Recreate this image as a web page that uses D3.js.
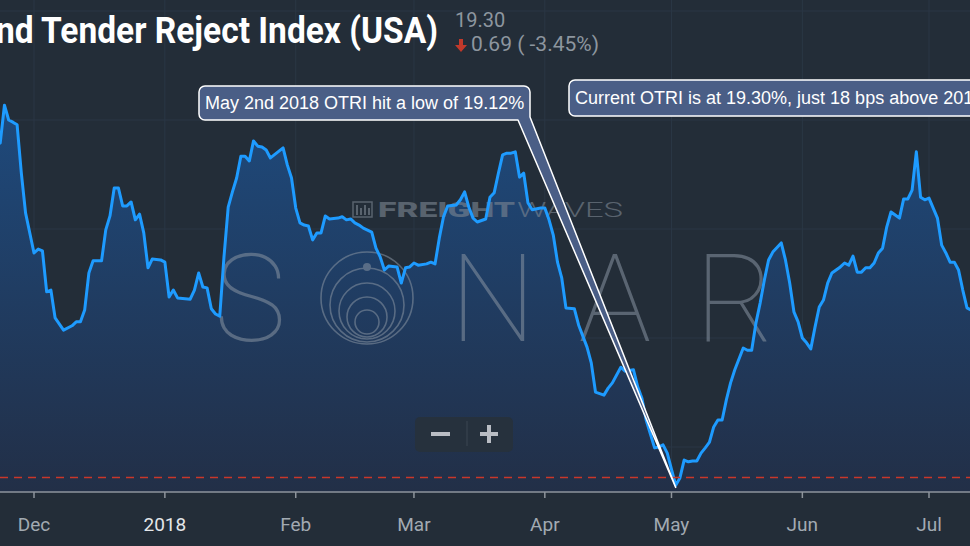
<!DOCTYPE html>
<html>
<head>
<meta charset="utf-8">
<script src="https://cdn.jsdelivr.net/npm/d3@7"></script>
<style>
  body { margin: 0; background: #232d38; overflow: hidden; }
  svg { display: block; }
</style>
</head>
<body>
<div id="chart"></div>
<script>
// daily OTRI readings
let dates = [
  "2017-11-22","2017-11-23","2017-11-24","2017-11-25","2017-11-26","2017-11-27","2017-11-28","2017-11-29",
  "2017-12-01","2017-12-02","2017-12-03","2017-12-04","2017-12-05","2017-12-06","2017-12-08","2017-12-10",
  "2017-12-11","2017-12-12","2017-12-13","2017-12-14","2017-12-15","2017-12-17","2017-12-18","2017-12-19",
  "2017-12-20","2017-12-21","2017-12-22","2017-12-23","2017-12-24","2017-12-25","2017-12-26","2017-12-27",
  "2017-12-28","2017-12-29","2017-12-31","2018-01-01","2018-01-02","2018-01-03","2018-01-04","2018-01-07",
  "2018-01-08","2018-01-09","2018-01-10","2018-01-11","2018-01-12","2018-01-13","2018-01-14","2018-01-15",
  "2018-01-16","2018-01-17","2018-01-18","2018-01-19","2018-01-20","2018-01-21","2018-01-22","2018-01-23",
  "2018-01-24","2018-01-25","2018-01-26","2018-01-29","2018-01-30","2018-01-31","2018-02-01","2018-02-02",
  "2018-02-03","2018-02-04","2018-02-05","2018-02-06","2018-02-07","2018-02-08","2018-02-09","2018-02-11",
  "2018-02-12","2018-02-13","2018-02-14","2018-02-15","2018-02-16","2018-02-17","2018-02-19","2018-02-20",
  "2018-02-21","2018-02-22","2018-02-23","2018-02-25","2018-02-26","2018-02-27","2018-02-28","2018-03-01",
  "2018-03-02","2018-03-04","2018-03-05","2018-03-06","2018-03-07","2018-03-08","2018-03-09","2018-03-11",
  "2018-03-12","2018-03-13","2018-03-14","2018-03-15","2018-03-16","2018-03-18","2018-03-19","2018-03-20",
  "2018-03-21","2018-03-22","2018-03-23","2018-03-24","2018-03-25","2018-03-26","2018-03-27","2018-03-28",
  "2018-03-29","2018-03-31","2018-04-01","2018-04-02","2018-04-03","2018-04-04","2018-04-05","2018-04-06",
  "2018-04-08","2018-04-09","2018-04-11","2018-04-12","2018-04-13","2018-04-15","2018-04-16","2018-04-17",
  "2018-04-19","2018-04-20","2018-04-22","2018-04-23","2018-04-24","2018-04-25","2018-04-27","2018-04-28",
  "2018-04-29","2018-04-30","2018-05-02","2018-05-03","2018-05-04","2018-05-05","2018-05-06","2018-05-07",
  "2018-05-08","2018-05-09","2018-05-10","2018-05-11","2018-05-12","2018-05-13","2018-05-14","2018-05-15",
  "2018-05-16","2018-05-18","2018-05-19","2018-05-20","2018-05-21","2018-05-22","2018-05-23","2018-05-24",
  "2018-05-25","2018-05-27","2018-05-28","2018-05-29","2018-05-30","2018-05-31","2018-06-01","2018-06-02",
  "2018-06-03","2018-06-04","2018-06-05","2018-06-06","2018-06-07","2018-06-08","2018-06-09","2018-06-10",
  "2018-06-11","2018-06-12","2018-06-13","2018-06-14","2018-06-15","2018-06-16","2018-06-17","2018-06-18",
  "2018-06-19","2018-06-20","2018-06-21","2018-06-22","2018-06-23","2018-06-24","2018-06-25","2018-06-26",
  "2018-06-27","2018-06-28","2018-06-29","2018-06-30","2018-07-01","2018-07-02","2018-07-03","2018-07-04",
  "2018-07-05","2018-07-06","2018-07-07","2018-07-08","2018-07-09","2018-07-10","2018-07-11"
];
let otri = [
  27.39,26.97,27.84,27.50,27.45,27.39,26.28,25.37,
  24.45,24.54,24.50,23.56,23.60,22.96,22.68,22.78,
  22.87,22.87,23.14,23.99,24.27,24.27,24.98,25.30,
  25.94,25.94,25.53,25.53,25.62,25.21,25.34,24.91,
  24.11,24.31,24.29,24.24,23.44,23.60,23.42,23.39,
  23.60,23.99,23.67,23.65,23.17,23.05,23.00,24.36,
  25.50,25.85,26.17,26.67,26.67,26.56,27.02,26.90,
  26.88,26.81,26.63,26.86,26.47,26.17,25.48,25.14,
  25.09,25.07,24.75,24.91,24.91,25.30,25.23,25.25,
  25.28,25.21,25.23,25.14,25.09,25.02,24.93,24.56,
  24.36,24.06,24.15,24.13,23.76,24.11,24.13,24.22,
  24.17,24.20,24.24,24.20,24.79,25.28,25.53,25.55,
  25.67,25.85,25.50,25.25,25.16,25.23,25.73,25.83,
  26.28,26.70,26.74,26.74,26.77,26.19,26.28,25.60,
  25.44,25.48,25.48,25.21,24.86,24.24,23.88,23.19,
  23.17,22.80,22.29,21.93,21.26,21.19,21.35,21.47,
  21.83,21.74,21.77,21.38,21.12,20.62,19.98,20.00,
  20.05,19.86,19.12,19.29,19.70,19.66,19.68,19.68,
  19.86,19.98,20.11,20.46,20.62,20.62,21.08,21.47,
  21.77,22.27,22.22,22.22,22.84,23.30,23.83,24.29,
  24.47,24.68,24.29,23.76,23.10,22.87,22.50,22.39,
  22.25,22.75,23.21,23.37,23.76,23.99,24.06,24.13,
  24.22,24.17,24.38,24.01,24.01,24.11,24.11,24.22,
  24.45,24.56,25.05,25.39,25.32,25.25,25.69,25.69,
  25.89,26.77,25.73,25.67,25.71,25.48,25.25,24.63,
  24.45,24.24,24.24,24.06,23.60,23.19,23.14
];

let tickDates = ["2017-12-01","2018-01-01","2018-02-01","2018-03-01","2018-04-01","2018-05-01","2018-06-01","2018-07-01"];
let tickLabels = ["Dec","2018","Feb","Mar","Apr","May","Jun","Jul"];
let gridValues = [20, 22.5, 25, 27.5, 30];

let lowDate = "2018-05-02";
let lowValue = 19.12;
let currentValue = 19.30;

let titleText = "Outbound Tender Reject Index (USA)";
let lastText = "19.30";
let changeText = "0.69 ( -3.45%)";
let noteLow = "May 2nd 2018 OTRI hit a low of 19.12%";
let noteNow = "Current OTRI is at 19.30%, just 18 bps above 2018 low";

let width = 970, height = 546;
let parse = d3.utcParse("%Y-%m-%d");
let data = dates.map((d, i) => ({date: parse(d), value: otri[i]}));

let x = d3.scaleUtc()
  .domain([parse(tickDates[0]), parse(tickDates[tickDates.length - 1])])
  .range([34, 929]);
let y = d3.scaleLinear()
  .domain([20, 30])
  .range([447, 11]);
let axisY = 492;

let svg = d3.select("#chart").append("svg")
  .attr("width", width)
  .attr("height", height)
  .style("font-family", "Roboto, 'Liberation Sans', sans-serif");

svg.append("rect").attr("width", width).attr("height", height).attr("fill", "#232d38");

let defs = svg.append("defs");
let grad = defs.append("linearGradient")
  .attr("id", "areaFill")
  .attr("gradientUnits", "userSpaceOnUse")
  .attr("x1", 0).attr("x2", 0)
  .attr("y1", 100).attr("y2", axisY);
grad.append("stop").attr("offset", 0).attr("stop-color", "#1e4a7d");
grad.append("stop").attr("offset", 1).attr("stop-color", "#222f47");

// grid
svg.append("g")
  .selectAll("line")
  .data(gridValues)
  .join("line")
  .attr("x1", 0).attr("x2", width)
  .attr("y1", d => y(d)).attr("y2", d => y(d))
  .attr("stroke", "#2a3745")
  .attr("stroke-width", 1);

svg.append("g")
  .selectAll("line")
  .data(tickDates)
  .join("line")
  .attr("x1", d => x(parse(d))).attr("x2", d => x(parse(d)))
  .attr("y1", 0).attr("y2", axisY)
  .attr("stroke", "#2a3745")
  .attr("stroke-width", 1);

// area under the line
let area = d3.area()
  .x(d => x(d.date))
  .y0(axisY)
  .y1(d => y(d.value));

svg.append("path")
  .datum(data)
  .attr("d", area)
  .attr("fill", "url(#areaFill)");

// watermark
let wm = svg.append("g").attr("opacity", 0.55);
let sonar = [["S", 250], ["N", 493], ["A", 615], ["R", 735]];
sonar.forEach(s => {
  wm.append("text")
    .attr("x", s[1]).attr("y", 341)
    .attr("text-anchor", "middle")
    .attr("font-size", 122)
    .attr("font-weight", 100)
    .attr("fill", "#8894a2")
    .text(s[0]);
});
let rings = [[46, 0], [37, 7], [28, 13], [20, 19], [12, 24]];
rings.forEach(r => {
  wm.append("circle")
    .attr("cx", 367).attr("cy", 298 + r[1]).attr("r", r[0])
    .attr("fill", "none")
    .attr("stroke", "#8894a2")
    .attr("stroke-width", 1.6);
});
wm.append("circle").attr("cx", 367).attr("cy", 267).attr("r", 4).attr("fill", "#8894a2");

let fw = svg.append("g").attr("opacity", 0.6).attr("fill", "#7d8793");
fw.append("rect").attr("x", 353).attr("y", 202).attr("width", 19).attr("height", 15)
  .attr("fill", "none").attr("stroke", "#7d8793").attr("stroke-width", 1.5);
[356, 360, 364, 368].forEach((bx, i) => {
  fw.append("rect").attr("x", bx).attr("y", 205 + (i % 2) * 3).attr("width", 2).attr("height", 10 - (i % 2) * 3);
});
fw.append("text")
  .attr("x", 378).attr("y", 217)
  .attr("font-size", 21).attr("font-weight", 900)
  .attr("textLength", 137).attr("lengthAdjust", "spacingAndGlyphs")
  .text("FREIGHT");
fw.append("text")
  .attr("x", 517).attr("y", 217)
  .attr("font-size", 21).attr("font-weight", 300)
  .attr("textLength", 106).attr("lengthAdjust", "spacingAndGlyphs")
  .text("WAVES");

// the OTRI line
let line = d3.line()
  .x(d => x(d.date))
  .y(d => y(d.value));

svg.append("path")
  .datum(data)
  .attr("d", line)
  .attr("fill", "none")
  .attr("stroke", "#1e9bff")
  .attr("stroke-width", 3)
  .attr("stroke-linejoin", "round");

// current value marker
let curY = Math.round(y(currentValue)) - 0.5;
svg.append("line")
  .attr("x1", 0).attr("x2", width)
  .attr("y1", curY).attr("y2", curY)
  .attr("stroke", "#c9372a")
  .attr("stroke-width", 1.3)
  .attr("stroke-dasharray", "8,6");

// x axis
let xAxis = svg.append("g");
xAxis.append("line")
  .attr("x1", 0).attr("x2", width)
  .attr("y1", axisY).attr("y2", axisY)
  .attr("stroke", "#8e959c").attr("stroke-width", 1.5);
xAxis.selectAll(".tick")
  .data(tickDates)
  .join("line")
  .attr("x1", d => x(parse(d))).attr("x2", d => x(parse(d)))
  .attr("y1", axisY).attr("y2", axisY + 6)
  .attr("stroke", "#8e959c").attr("stroke-width", 1.5);
xAxis.selectAll("text")
  .data(tickDates)
  .join("text")
  .attr("x", d => x(parse(d)))
  .attr("y", 531)
  .attr("text-anchor", "middle")
  .attr("font-size", 19)
  .attr("fill", (d, i) => tickLabels[i] == "2018" ? "#e4e7ea" : "#a2aab2")
  .text((d, i) => tickLabels[i]);

// zoom buttons
let zb = svg.append("g");
zb.append("rect").attr("x", 415).attr("y", 417).attr("width", 98).attr("height", 35)
  .attr("rx", 5).attr("fill", "#26313d");
zb.append("line").attr("x1", 467).attr("x2", 467).attr("y1", 421).attr("y2", 446)
  .attr("stroke", "#3a4652").attr("stroke-width", 1);
zb.append("rect").attr("x", 431).attr("y", 432).attr("width", 19).attr("height", 4).attr("fill", "#b9bdc4");
zb.append("rect").attr("x", 480).attr("y", 432).attr("width", 18).attr("height", 4).attr("fill", "#b9bdc4");
zb.append("rect").attr("x", 487).attr("y", 425).attr("width", 4).attr("height", 18).attr("fill", "#b9bdc4");

// callout for the 2018 low
let tipX = x(parse(lowDate)), tipY = y(lowValue) + 2;
let b = {x0: 199, y0: 86, x1: 530, y1: 120, r: 6};
let calloutPath = "M" + (b.x0 + b.r) + "," + b.y0 +
  " H" + (b.x1 - b.r) +
  " A" + b.r + "," + b.r + " 0 0 1 " + b.x1 + "," + (b.y0 + b.r) +
  " V" + (b.y1 - 3) +
  " L" + tipX + "," + tipY +
  " L" + (b.x1 - 12) + "," + b.y1 +
  " H" + (b.x0 + b.r) +
  " A" + b.r + "," + b.r + " 0 0 1 " + b.x0 + "," + (b.y1 - b.r) +
  " V" + (b.y0 + b.r) +
  " A" + b.r + "," + b.r + " 0 0 1 " + (b.x0 + b.r) + "," + b.y0 + " Z";
svg.append("path")
  .attr("d", calloutPath)
  .attr("fill", "#4a5e86")
  .attr("stroke", "#ffffff")
  .attr("stroke-width", 1.5)
  .attr("stroke-linejoin", "round");
svg.append("text")
  .attr("x", 205).attr("y", 109)
  .attr("font-family", "'Liberation Sans', Arial, sans-serif")
  .attr("font-size", 18)
  .attr("fill", "#ffffff")
  .text(noteLow);

svg.append("rect")
  .attr("x", 569).attr("y", 80).attr("width", 520).attr("height", 36)
  .attr("rx", 6)
  .attr("fill", "#4a5e86")
  .attr("stroke", "#ffffff")
  .attr("stroke-width", 1.5);
svg.append("text")
  .attr("x", 575).attr("y", 104)
  .attr("font-family", "'Liberation Sans', Arial, sans-serif")
  .attr("font-size", 18)
  .attr("fill", "#ffffff")
  .text(noteNow);

// title, condensed to fit like the original
let title = svg.append("text")
  .attr("text-anchor", "end")
  .attr("font-size", 37)
  .attr("font-weight", 700)
  .attr("fill", "#ffffff")
  .text(titleText);
let probe = svg.append("text")
  .attr("font-size", 37)
  .attr("font-weight", 700)
  .text("Tender Reject Index (USA)");
let k = 397 / probe.node().getComputedTextLength();
probe.remove();
title.attr("transform", "translate(438,43) scale(" + k + ",1)");

svg.append("text")
  .attr("x", 455).attr("y", 27)
  .attr("font-size", 20)
  .attr("fill", "#8d969f")
  .text(lastText);
svg.append("path")
  .attr("d", "M459,39 H463 V45 H467 L461,52 L455,45 H459 Z")
  .attr("fill", "#c0392b");
svg.append("text")
  .attr("x", 471).attr("y", 51)
  .attr("font-size", 21)
  .attr("fill", "#8d969f")
  .text(changeText);
</script>
</body>
</html>
